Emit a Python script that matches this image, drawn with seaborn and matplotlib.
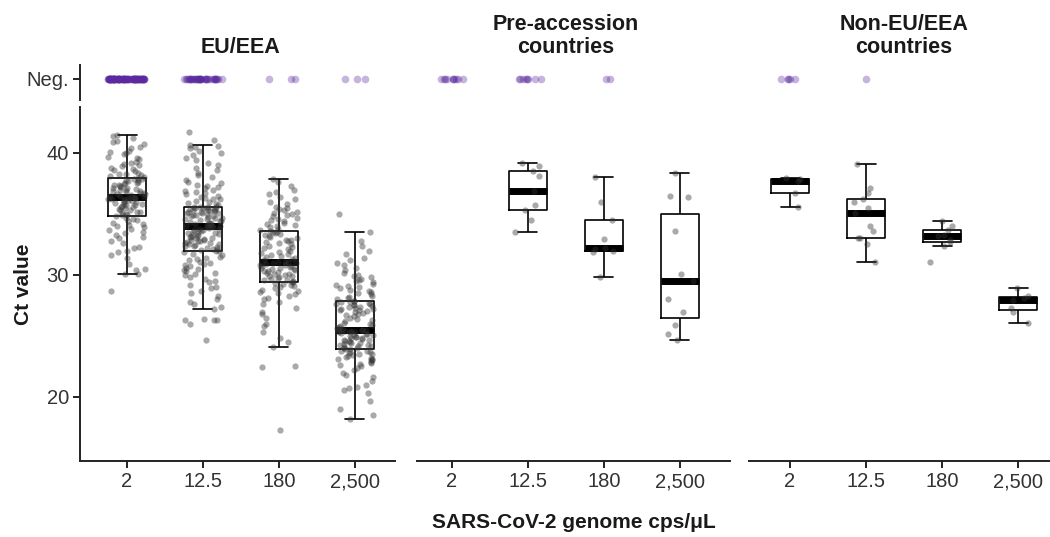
import numpy as np
import pandas as pd
import matplotlib
matplotlib.use("Agg")
import matplotlib.pyplot as plt
import matplotlib.transforms as mtransforms
import seaborn as sns

# ---------------- data ----------------
doses = ["2", "12.5", "180", "2,500"]
regions = ["EU/EEA", "Pre-accession\ncountries", "Non-EU/EEA\ncountries"]

eu_2 = [28.7,
        30.05, 30.1, 30.4, 30.5, 30.9, 31.4, 31.6, 31.9, 32.0, 32.2, 32.3, 32.6, 32.8, 33.0, 33.1,
        33.3, 33.4, 33.5, 33.7, 33.8, 33.9, 34.0, 34.1, 34.2, 34.3, 34.4, 34.5, 34.6, 34.7,
        34.81,
        34.9, 34.95, 35.0, 35.1, 35.15, 35.2, 35.3, 35.35, 35.4, 35.5, 35.55, 35.6, 35.65, 35.7, 35.75,
        35.8, 35.85, 35.9, 35.95, 36.0, 36.05, 36.1, 36.15, 36.2, 36.22, 36.25, 36.3, 36.33, 36.35,
        36.37,
        36.4, 36.45, 36.5, 36.55, 36.6, 36.65, 36.7, 36.75, 36.8, 36.85, 36.9, 36.95, 37.0, 37.05, 37.1,
        37.15, 37.2, 37.3, 37.35, 37.4, 37.45, 37.5, 37.55, 37.6, 37.7, 37.75, 37.8, 37.85, 37.9,
        37.97,
        38.0, 38.1, 38.2, 38.25, 38.3, 38.4, 38.5, 38.6, 38.7, 38.8, 38.9, 39.0, 39.1, 39.2, 39.3,
        39.5, 39.6, 39.7, 39.9, 40.0, 40.1, 40.2, 40.4, 40.5, 40.7, 40.9, 41.0, 41.2, 41.4, 41.5]

eu_12_5 = [24.7, 26.0, 26.3, 26.3, 26.3, 26.35, 27.23, 27.4, 27.6, 27.8, 28.0, 28.3, 28.5, 28.7,
           28.9, 29.0, 29.2, 29.4, 29.5, 29.7, 29.8, 30.0, 30.1, 30.2, 30.3, 30.4, 30.5, 30.6, 30.7,
           30.8, 30.9, 31.0, 31.1, 31.2, 31.3, 31.4, 31.5, 31.6, 31.75, 31.9,
           31.98,
           32.0, 32.05, 32.1, 32.15, 32.2, 32.3, 32.35, 32.4, 32.45, 32.5, 32.55, 32.6, 32.65, 32.7,
           32.75, 32.8, 32.85, 32.9, 32.95, 33.0, 33.05, 33.1, 33.15, 33.2, 33.25, 33.3, 33.35, 33.4,
           33.45, 33.5, 33.55, 33.6, 33.65, 33.7, 33.75, 33.8, 33.85, 33.9, 33.95,
           33.98,
           34.0, 34.05, 34.1, 34.15, 34.2, 34.25, 34.3, 34.35, 34.4, 34.45, 34.5, 34.55, 34.6, 34.65,
           34.7, 34.75, 34.8, 34.85, 34.9, 34.95, 35.0, 35.05, 35.1, 35.12, 35.15, 35.2, 35.22, 35.25,
           35.3, 35.32, 35.35, 35.4, 35.42, 35.45, 35.5, 35.52, 35.55, 35.57, 35.58,
           35.6,
           35.7, 35.8, 35.9, 36.0, 36.1, 36.2, 36.3, 36.4, 36.5, 36.6, 36.7, 36.8, 36.9, 37.0, 37.1,
           37.2, 37.3, 37.4, 37.5, 37.6, 37.8, 38.0, 38.2, 38.4, 38.6, 38.8, 39.0, 39.2, 39.4, 39.6,
           39.8, 40.0, 40.2, 40.4, 40.5, 40.6, 40.69, 41.1, 41.7, 36.25]

eu_180 = [17.3, 22.45, 22.5, 24.09, 24.5, 24.8, 25.3, 25.8, 26.0, 26.5, 26.8, 27.0, 27.3, 27.6,
          27.8, 28.0, 28.1, 28.3, 28.4, 28.5, 28.6, 28.7, 28.8, 28.9, 29.0, 29.1, 29.2, 29.3, 29.35, 29.4,
          29.45,
          29.5, 29.55, 29.6, 29.7, 29.75, 29.8, 29.9, 29.95, 30.0, 30.05, 30.1, 30.2, 30.25, 30.3,
          30.35, 30.4, 30.45, 30.5, 30.55, 30.6, 30.65, 30.7, 30.75, 30.8, 30.85, 30.9, 30.95, 31.0, 31.03,
          31.07,
          31.1, 31.2, 31.3, 31.4, 31.5, 31.55, 31.6, 31.7, 31.8, 31.9, 32.0, 32.1, 32.2, 32.3, 32.4,
          32.5, 32.6, 32.7, 32.8, 32.85, 32.9, 33.0, 33.1, 33.2, 33.3, 33.35, 33.4, 33.5, 33.55,
          33.6,
          33.7, 33.8, 33.9, 34.0, 34.1, 34.2, 34.3, 34.4, 34.5, 34.6, 34.7, 34.8, 34.9, 35.0, 35.1,
          35.2, 35.3, 35.4, 35.5, 35.6, 35.8, 36.0, 36.2, 36.4, 36.6, 36.8, 37.0, 37.3, 37.6, 37.88]

eu_2500 = [18.16, 18.5, 19.0, 19.7, 20.3, 20.6, 20.7, 20.8, 21.0, 21.3, 21.6, 21.8, 22.0, 22.2,
           22.4, 22.5, 22.6, 22.7, 22.8, 22.9, 23.0, 23.05, 23.1, 23.15, 23.2, 23.3, 23.35, 23.4, 23.5,
           23.55, 23.6, 23.65, 23.7, 23.75, 23.8,
           23.9,
           23.95, 24.0, 24.05, 24.1, 24.15, 24.2, 24.25, 24.3, 24.35, 24.4, 24.45, 24.5, 24.55, 24.6,
           24.65, 24.7, 24.75, 24.8, 24.85, 24.9, 24.95, 25.0, 25.05, 25.1, 25.15, 25.2, 25.25, 25.3,
           25.32, 25.35, 25.38, 25.4, 25.42, 25.45,
           25.47,
           25.5, 25.55, 25.6, 25.65, 25.7, 25.8, 25.9, 26.0, 26.1, 26.2, 26.3, 26.4, 26.5, 26.6, 26.7,
           26.8, 26.9, 27.0, 27.05, 27.1, 27.15, 27.2, 27.25, 27.3, 27.35, 27.4, 27.45, 27.5, 27.55,
           27.6, 27.65, 27.7, 27.75, 27.8,
           27.83,
           27.9, 28.0, 28.1, 28.2, 28.3, 28.4, 28.5, 28.6, 28.7, 28.8, 28.9, 29.0, 29.1, 29.2, 29.3,
           29.4, 29.5, 29.6, 29.7, 29.8, 29.9, 30.0, 30.2, 30.4, 30.6, 30.8, 31.0, 31.2, 31.4, 31.7,
           32.0, 32.4, 32.8, 33.54, 35.0]

pre_2 = []
pre_12_5 = [33.5, 34.5, 35.3, 35.7, 36.9, 38.1, 38.55, 38.9, 39.2]
pre_180 = [29.85, 31.9, 31.97, 32.1, 32.24, 32.95, 34.5, 36.0, 38.06]
pre_2500 = [24.7, 25.15, 25.9, 27.0, 28.0, 29.5, 30.1, 33.6, 36.4, 36.5, 38.33]

non_2 = [35.6, 36.7, 37.7, 37.87, 37.93]
non_12_5 = [31.04, 32.5, 33.0, 33.06, 33.6, 34.0, 35.06, 35.5, 36.0, 36.23, 36.7, 37.1, 39.07]
non_180 = [31.04, 32.4, 32.73, 32.9, 33.17, 33.3, 33.66, 34.0, 34.43]
non_2500 = [26.04, 26.95, 27.31, 27.95, 28.1, 28.24, 28.9]

# number of negative samples per dose
neg_eu = [100, 40, 3, 3]
neg_pre = [10, 8, 2, 0]
neg_non = [5, 1, 0, 0]

groups = {
    regions[0]: [eu_2, eu_12_5, eu_180, eu_2500],
    regions[1]: [pre_2, pre_12_5, pre_180, pre_2500],
    regions[2]: [non_2, non_12_5, non_180, non_2500],
}
negs = {regions[0]: neg_eu, regions[1]: neg_pre, regions[2]: neg_non}

rows = []
for reg, lists in groups.items():
    for d, vals in zip(doses, lists):
        for v in vals:
            rows.append((reg, d, v))
df = pd.DataFrame(rows, columns=["region", "dose", "ct"])

nrows = []
for reg, counts in negs.items():
    for d, c in zip(doses, counts):
        nrows += [(reg, d, 0.0)] * c
negdf = pd.DataFrame(nrows, columns=["region", "dose", "y"])

# ---------------- plot ----------------
sns.set_theme(style="ticks")
plt.rcParams["font.family"] = ["Liberation Sans", "DejaVu Sans"]
np.random.seed(7)

W, H = 1050, 537
fig = plt.figure(figsize=(10.5, 5.37), dpi=100)

panels = [(80, 395, (-0.62, 3.53)), (417, 730, (-0.46, 3.66)), (749, 1050, (-0.54, 3.42))]
main_top, main_bot = 107, 461
neg_top, neg_bot = 65, 100


def frac(l, r, t, b):
    return [l / W, 1 - b / H, (r - l) / W, (b - t) / H]


tick_col = "#333333"
spine_col = "#222222"

for i, (reg, (l, r, xl)) in enumerate(zip(regions, panels)):
    ax = fig.add_axes(frac(l, r, main_top, main_bot))
    axn = fig.add_axes(frac(l, r, neg_top, neg_bot))
    jit = 0.25 if i == 0 else 0.17

    sub = df[df.region == reg]
    sns.stripplot(data=sub, x="dose", y="ct", order=doses, ax=ax, jitter=jit,
                  color="#333333", alpha=0.42, size=4.5, linewidth=0)
    sns.boxplot(data=sub, x="dose", y="ct", order=doses, ax=ax, width=0.5, fill=False,
                color="black", linewidth=1.2, showfliers=False, whis=1.5,
                medianprops=dict(color="black", linewidth=5, solid_capstyle="butt"))

    subn = negdf[negdf.region == reg]
    sns.stripplot(data=subn, x="dose", y="y", order=doses, ax=axn, jitter=jit,
                  color="#5b2a9e", alpha=0.35, size=5.5, linewidth=0)

    for a in (ax, axn):
        a.set_xlim(*xl)
        a.set_xlabel("")
        a.set_ylabel("")
        for s in a.spines.values():
            s.set_linewidth(1.4)
            s.set_color(spine_col)
        a.tick_params(axis="both", length=5, width=1.4, color=spine_col,
                      labelsize=14.5, labelcolor=tick_col, pad=3)

    ax.set_ylim(14.75, 43.77)
    ax.spines["top"].set_visible(False)
    ax.spines["right"].set_visible(False)
    ax.set_xticks(range(len(doses)))
    ax.set_xticklabels(doses)

    axn.set_ylim(-0.6, 0.4)
    axn.set_xticks([])
    for s in ("top", "right", "bottom"):
        axn.spines[s].set_visible(False)

    if i == 0:
        ax.set_yticks([20, 30, 40])
        ax.set_ylabel("Ct value", fontsize=15, fontweight="bold", color="#1a1a1a")
        ax.yaxis.set_label_coords(-0.15, 0.5)
        axn.set_yticks([0])
        axn.set_yticklabels(["Neg."])
    else:
        ax.spines["left"].set_visible(False)
        ax.set_yticks([])
        axn.spines["left"].set_visible(False)
        axn.set_yticks([])

    trans = mtransforms.blended_transform_factory(axn.transData, axn.transAxes)
    axn.text(1.5, 1 + 7 / 35, reg, transform=trans, ha="center", va="bottom",
             multialignment="center", fontsize=15.5, fontweight="bold", color="#1a1a1a",
             linespacing=1.15)

fig.text(574 / W, 1 - 522 / H, "SARS-CoV-2 genome cps/μL", ha="center", va="center",
         fontsize=15, fontweight="bold", color="#1a1a1a")

fig.savefig("out.png", dpi=100, facecolor="white")
